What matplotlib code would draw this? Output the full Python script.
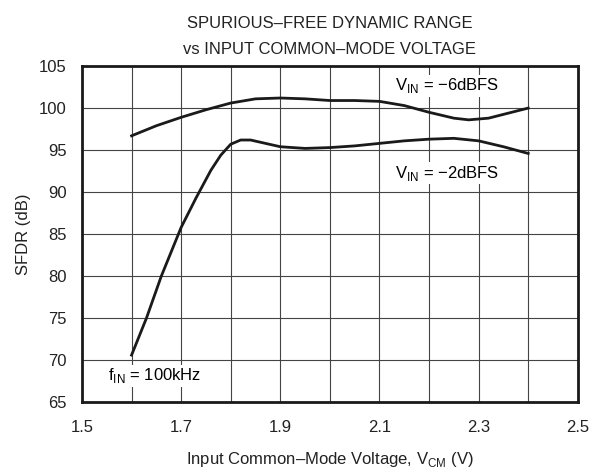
import matplotlib.pyplot as plt
import numpy as np

plt.rcParams['font.family'] = ['Liberation Sans', 'DejaVu Sans']
plt.rcParams['mathtext.fontset'] = 'custom'
plt.rcParams['mathtext.rm'] = 'Liberation Sans'

# SFDR vs common-mode voltage
vcm_6 = [1.60, 1.65, 1.70, 1.75, 1.80, 1.85, 1.90, 1.95, 2.00, 2.05, 2.10,
         2.15, 2.20, 2.25, 2.28, 2.32, 2.36, 2.40]
sfdr_6 = [96.7, 97.9, 98.9, 99.8, 100.6, 101.1, 101.2, 101.1, 100.9, 100.9, 100.8,
          100.3, 99.5, 98.8, 98.6, 98.8, 99.4, 100.0]

vcm_2 = [1.60, 1.63, 1.66, 1.70, 1.73, 1.76, 1.78, 1.80, 1.82, 1.84, 1.87, 1.90,
         1.95, 2.00, 2.05, 2.10, 2.15, 2.20, 2.25, 2.30, 2.35, 2.40]
sfdr_2 = [70.6, 75.0, 80.0, 85.8, 89.3, 92.6, 94.4, 95.7, 96.2, 96.2, 95.8, 95.4,
          95.2, 95.3, 95.5, 95.8, 96.1, 96.3, 96.4, 96.1, 95.4, 94.6]

xticks = [1.5, 1.7, 1.9, 2.1, 2.3, 2.5]
yticks = [65, 70, 75, 80, 85, 90, 95, 100, 105]

fig = plt.figure(figsize=(5.92, 4.72), dpi=100)
ax = fig.add_axes([0.1385, 0.148, 0.8375, 0.712])

ax.plot(vcm_6, sfdr_6, color='#1a1a1a', linewidth=2.0, zorder=3)
ax.plot(vcm_2, sfdr_2, color='#1a1a1a', linewidth=2.0, zorder=3)

ax.set_xlim(1.5, 2.5)
ax.set_ylim(65, 105)
ax.set_xticks(xticks)
ax.set_yticks(yticks)
ax.set_xticklabels(['1.5', '1.7', '1.9', '2.1', '2.3', '2.5'])
ax.xaxis.set_minor_locator(plt.MultipleLocator(0.1))
ax.grid(True, which='both', color='#444444', linewidth=0.8)
ax.tick_params(which='both', length=0, labelsize=12, colors='#222222')
ax.tick_params(axis='x', pad=13)
ax.tick_params(axis='y', pad=11)
for s in ax.spines.values():
    s.set_linewidth(2.0)
    s.set_color('#1a1a1a')

box = dict(facecolor='white', edgecolor='none', pad=1)
ax.text(2.131, 102.1, r'V$_{\mathregular{IN}}$ = −6dBFS', fontsize=12,
        va='baseline', bbox=box, zorder=4)
ax.text(2.131, 91.7, r'V$_{\mathregular{IN}}$ = −2dBFS', fontsize=12,
        va='baseline', bbox=box, zorder=4)
ax.text(1.552, 67.6, r'f$_{\mathregular{IN}}$ = 100kHz', fontsize=12,
        va='baseline', bbox=box, zorder=4)

ax.set_xlabel(r'Input Common–Mode Voltage, V$_{\mathregular{CM}}$ (V)', fontsize=12,
              labelpad=11, color='#222222')
ax.set_ylabel('SFDR (dB)', fontsize=12, labelpad=6, color='#222222')
ax.set_title('SPURIOUS–FREE DYNAMIC RANGE\nvs INPUT COMMON–MODE VOLTAGE',
             fontsize=12, linespacing=1.85, pad=9, color='#222222')

fig.savefig('out.png', dpi=100)
